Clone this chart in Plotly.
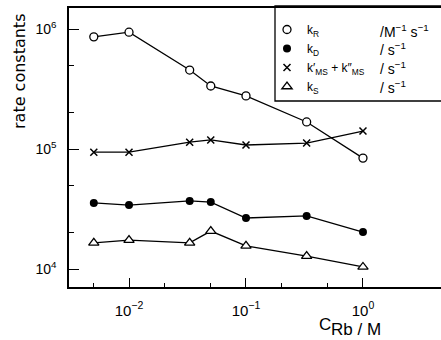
import plotly.graph_objects as go

# ---- data ----
conc = [0.005, 0.01, 0.033, 0.05, 0.1, 0.33, 1.0]          # C_Rb / M
k_R = [8.6e5, 9.4e5, 4.55e5, 3.35e5, 2.77e5, 1.68e5, 8.4e4]   # /M^-1 s^-1
k_D = [3.55e4, 3.41e4, 3.69e4, 3.61e4, 2.66e4, 2.77e4, 2.03e4]  # /s^-1
k_MS = [9.4e4, 9.4e4, 1.14e5, 1.19e5, 1.08e5, 1.12e5, 1.41e5]  # /s^-1
k_S = [1.65e4, 1.74e4, 1.65e4, 2.07e4, 1.56e4, 1.28e4, 1.04e4]  # /s^-1

series_names = ["k<sub>R</sub>", "k<sub>D</sub>",
                "k′<sub>MS</sub> + k″<sub>MS</sub>", "k<sub>S</sub>"]
series_units = ["/M<sup>−1</sup> s<sup>−1</sup>", "/ s<sup>−1</sup>",
                "/ s<sup>−1</sup>", "/ s<sup>−1</sup>"]
x_tickvals = [0.01, 0.1, 1]
x_ticktext = ["10<sup>−2</sup>", "10<sup>−1</sup>", "10<sup>0</sup>"]
x_minor = [0.005, 0.02, 0.05, 0.2, 0.5]
y_tickvals = [1e4, 1e5, 1e6]
y_ticktext = ["10<sup>4</sup>", "10<sup>5</sup>", "10<sup>6</sup>"]
y_minor = [2e4, 5e4, 2e5, 5e5]

W, H = 441, 340
ML, MR, MT, MB = 69, 0, 8, 53
PW, PH = W - ML - MR, H - MT - MB

def px(xp):
    return (xp - ML) / PW

def py(yp):
    return (H - MB - yp) / PH

FONT = "Liberation Sans, Arial, sans-serif"
BLACK = "black"
LW = 1.3

markers = [
    dict(symbol="circle", size=8, color="white", line=dict(color=BLACK, width=1.3)),
    dict(symbol="circle", size=8, color=BLACK, line=dict(color=BLACK, width=0)),
    dict(symbol="x-thin", size=7, color=BLACK, line=dict(color=BLACK, width=1.5)),
    dict(symbol="triangle-up", size=9, color="white", line=dict(color=BLACK, width=1.3)),
]
values = [k_R, k_D, k_MS, k_S]

fig = go.Figure()
for name, vals, mk in zip(series_names, values, markers):
    fig.add_trace(go.Scatter(x=conc, y=vals, mode="lines+markers",
                             line=dict(color=BLACK, width=LW), marker=mk,
                             name=name, showlegend=False, cliponaxis=False))
# legend-only entries (markers only, like the reference key)
for name, mk in zip(series_names, markers):
    fig.add_trace(go.Scatter(x=[None], y=[None], mode="markers", marker=mk,
                             name=name, showlegend=True))

axis_common = dict(type="log", showline=True, linecolor=BLACK, linewidth=1.5,
                   showgrid=False, zeroline=False, ticks="inside", tickcolor=BLACK,
                   tickwidth=1.3, tickmode="array")

fig.update_layout(
    width=W, height=H, margin=dict(l=ML, r=MR, t=MT, b=MB),
    paper_bgcolor="white", plot_bgcolor="white",
    xaxis=dict(axis_common, range=[-2.513, 0.667], mirror=True, ticklen=9,
               tickvals=x_tickvals, ticktext=x_ticktext, ticklabelstandoff=9,
               tickfont=dict(family=FONT, size=15, color=BLACK),
               minor=dict(ticks="inside", ticklen=4, tickcolor=BLACK, tickwidth=1.2,
                          tickmode="array", tickvals=x_minor)),
    yaxis=dict(axis_common, range=[3.85, 6.175], mirror=False, ticklen=10,
               tickvals=y_tickvals, ticktext=y_ticktext, ticklabelstandoff=8,
               tickfont=dict(family=FONT, size=14, color=BLACK),
               minor=dict(ticks="inside", ticklen=5, tickcolor=BLACK, tickwidth=1.2,
                          tickmode="array", tickvals=y_minor)),
    legend=dict(x=px(267), y=py(15), xanchor="left", yanchor="top",
                bgcolor="rgba(0,0,0,0)", borderwidth=0,
                font=dict(family=FONT, size=12, color=BLACK),
                tracegroupgap=0),
    showlegend=True,
)

# legend frame (right side cut off by the figure edge, as in the reference)
fig.add_shape(type="rect", xref="paper", yref="paper",
              x0=px(275), x1=px(460), y0=py(101), y1=py(6),
              line=dict(color=BLACK, width=1.3), layer="below")

# unit column of the key
row_y = [31, 49, 68, 87]
for u, ry in zip(series_units, row_y):
    fig.add_annotation(text=u, xref="paper", yref="paper", x=px(378), y=py(ry),
                       xanchor="left", yanchor="middle", showarrow=False,
                       font=dict(family=FONT, size=14, color=BLACK))

# axis titles
fig.add_annotation(text="rate constants", xref="paper", yref="paper",
                   x=px(19), y=py(72), textangle=-90, showarrow=False,
                   xanchor="center", yanchor="middle",
                   font=dict(family="DejaVu Sans, sans-serif", size=16, color=BLACK))
fig.add_annotation(text="C", xref="paper", yref="paper", x=px(325), y=py(324),
                   showarrow=False, xanchor="center", yanchor="middle",
                   font=dict(family=FONT, size=17, color=BLACK))
fig.add_annotation(text="Rb / M", xref="paper", yref="paper", x=px(356), y=py(329),
                   showarrow=False, xanchor="center", yanchor="middle",
                   font=dict(family=FONT, size=17, color=BLACK))

fig.write_html("out.html")
